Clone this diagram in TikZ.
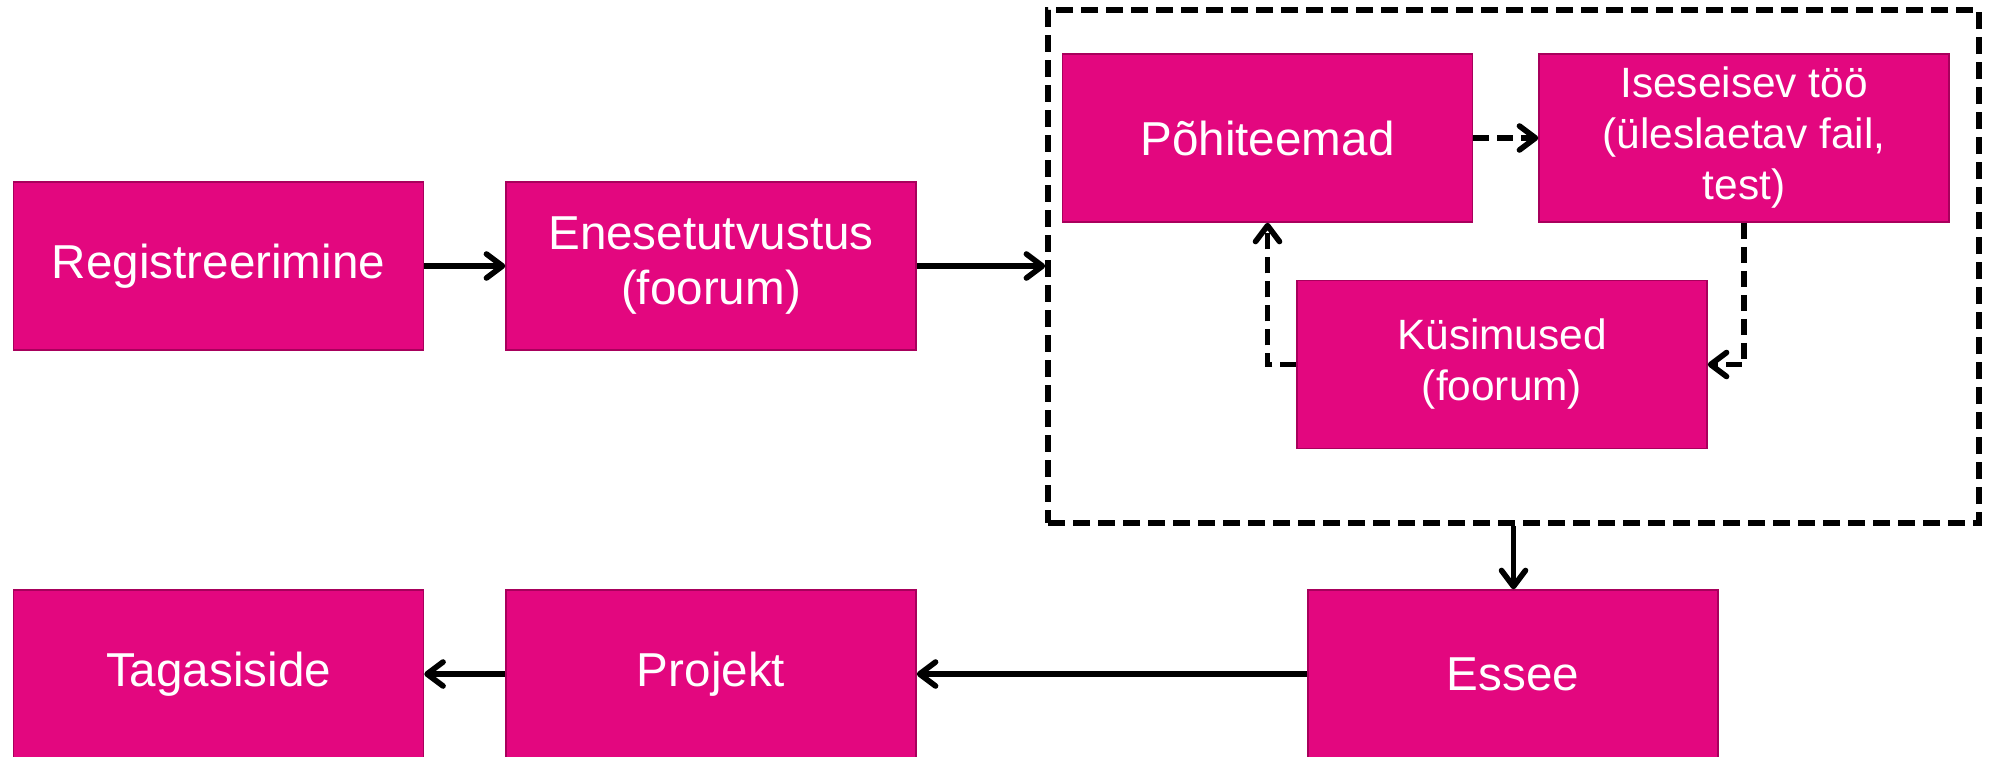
\documentclass[tikz,border=0pt]{standalone}
\usepackage{fontspec}
\setmainfont{Liberation Sans}
\usetikzlibrary{arrows.meta}
\definecolor{mag}{HTML}{E3077F}
\definecolor{magb}{HTML}{A8005C}
\begin{document}
\begin{tikzpicture}[x=0.5pt,y=-0.5pt,
 box/.style={draw=magb, line width=0.75pt, fill=mag, text=white, minimum width=205pt, minimum height=84pt, inner sep=0pt, align=center, font=\fontsize{23.8}{27.5}\selectfont},
 smallbox/.style={box, font=\fontsize{21.2}{25.5}\selectfont},
 conn/.style={line width=2.8pt, -{Straight Barb[length=8pt,width=12pt,round]}},
 dconn/.style={conn, dash pattern=on 8pt off 4pt},
 container/.style={draw, line width=2.8pt, dash pattern=on 8.5pt off 4pt, minimum width=465.5pt, minimum height=256.5pt, inner sep=0pt}
]
\clip (0,0) rectangle (1995,756);
\node[box] (reg) at (218.5,266) {Registreerimine};
\node[box] (enes) at (711,266) {Enesetutvustus\\(foorum)};
\node[container] (grp) at (1513.5,266.5) {};
\node[box] (pohi) at (1267.5,138) {Põhiteemad};
\node[smallbox] (ises) at (1744,138) {Iseseisev töö\\(üleslaetav fail,\\test)};
\node[smallbox] (kus) at (1502,364.5) {Küsimused\\(foorum)};
\node[box] (essee) at (1513,674) {Essee};
\node[box] (proj) at (711,674) {Projekt};
\node[box] (tag) at (218.5,674) {Tagasiside};
\draw[conn] (reg) -- (enes);
\draw[conn] (enes.east) -- (grp.west |- enes.east);
\draw[dconn] (pohi) -- (ises);
\draw[dconn] (ises.south) |- (kus.east);
\draw[dconn] (kus.west) -| (pohi.south);
\draw[conn] (grp.south) -- (grp.south |- essee.north);
\draw[conn] (essee) -- (proj);
\draw[conn] (proj) -- (tag);
\end{tikzpicture}
\end{document}
